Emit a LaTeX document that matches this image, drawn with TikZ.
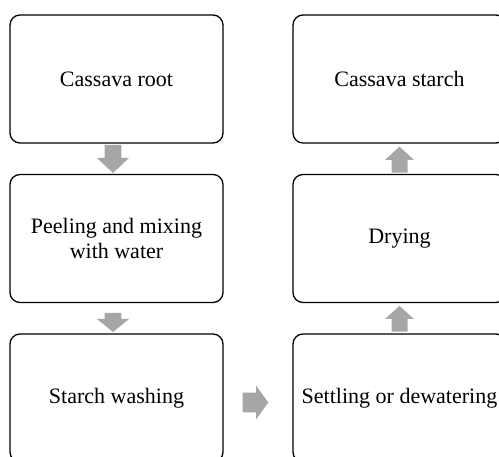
\documentclass[tikz,border=0pt]{standalone}
\usepackage{fontspec}
\setmainfont{Liberation Serif}
\definecolor{arrowfill}{RGB}{166,166,166}
\newcommand\myvarrow[6]{\fill[arrowfill] (#1-#5,#2) -- (#1+#5,#2) -- (#1+#5,#3) -- (#1+#6,#3) -- (#1,#4) -- (#1-#6,#3) -- (#1-#5,#3) -- cycle;}
\newcommand\myharrow[6]{\fill[arrowfill] (#2,#1-#5) -- (#2,#1+#5) -- (#3,#1+#5) -- (#3,#1+#6) -- (#4,#1) -- (#3,#1-#6) -- (#3,#1-#5) -- cycle;}
\begin{document}
\begin{tikzpicture}[x=1pt,y=-1pt,
  stepbox/.style={draw=black, line width=1.3pt, rounded corners=10pt, minimum width=213pt, minimum height=128pt, inner sep=2pt, align=center, font=\fontsize{22}{25}\selectfont}]
\useasboundingbox (0,0) rectangle (499,457);
\clip (0,0) rectangle (499,457);
\node[stepbox] (L1) at (116.5,79) {Cassava root};
\node[stepbox] (L2) at (116.5,238.5) {Peeling and mixing\\with water};
\node[stepbox] (L3) at (116.5,398) {Starch washing};
\node[stepbox] (R1) at (399.5,79) {Cassava starch};
\node[stepbox] (R2) at (399.5,238.5) {Drying};
\node[stepbox] (R3) at (399.5,398) {Settling or dewatering};
% block arrows between boxes
\myvarrow{113}{145}{158}{173}{8.3}{16}
\myvarrow{113}{313}{319}{332}{8.3}{16}
\myvarrow{399.5}{172.7}{160}{146.7}{8}{14.5}
\myvarrow{399.5}{331.7}{319}{306}{8}{14.5}
\myharrow{402.5}{242.7}{256}{268.3}{9.8}{17}
\end{tikzpicture}
\end{document}
